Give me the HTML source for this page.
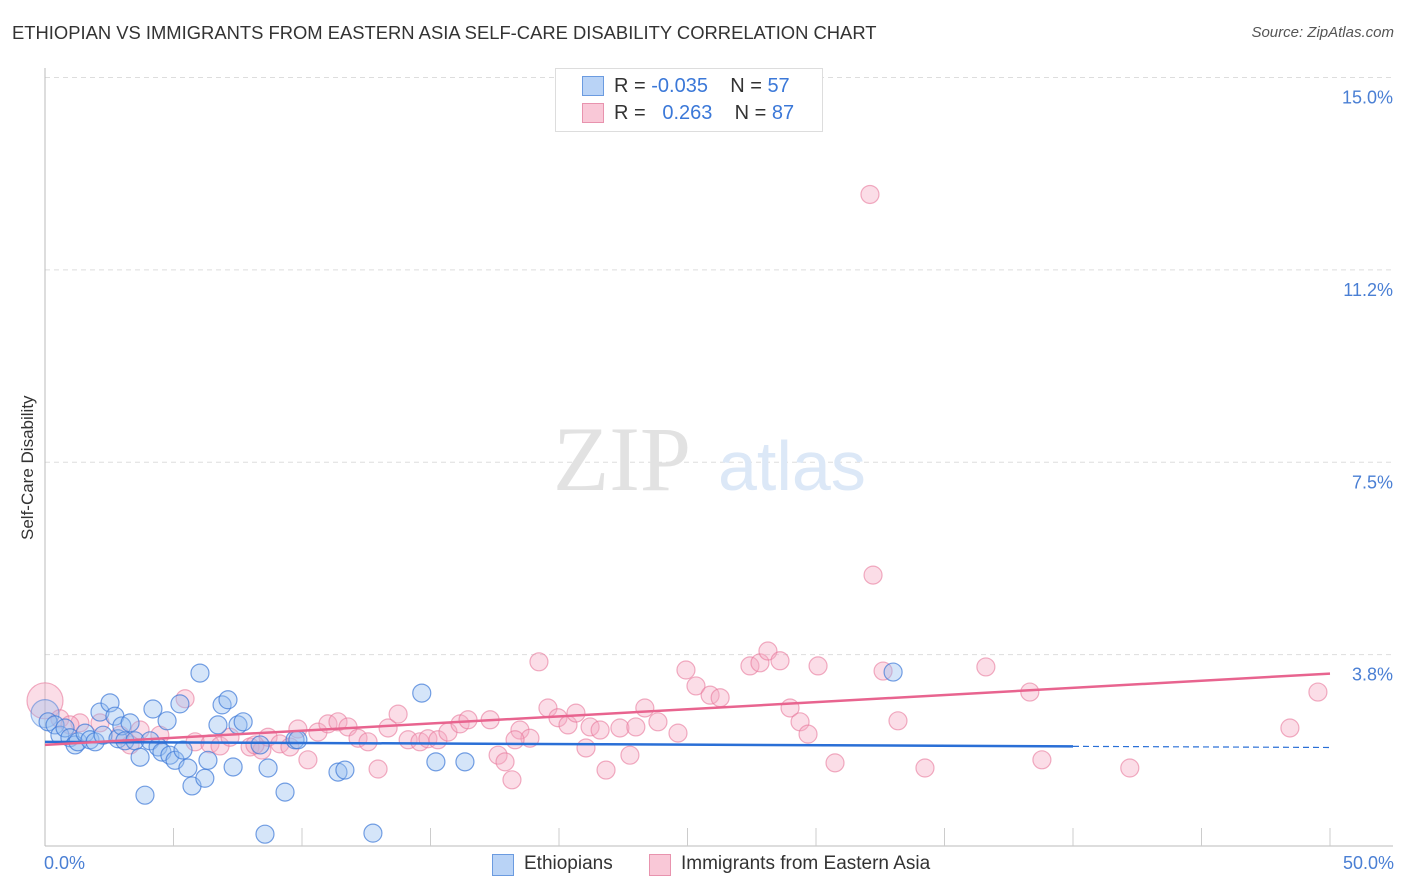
<!DOCTYPE html>
<html><head><meta charset="utf-8">
<style>
body{margin:0;background:#fff;font-family:"Liberation Sans",sans-serif;}
#wrap{position:relative;width:1406px;height:892px;}
.t{position:absolute;white-space:nowrap;}
</style></head>
<body>
<div id="wrap">
<div class="t" style="left:12px;top:22px;font-size:18.4px;color:#333;">ETHIOPIAN VS IMMIGRANTS FROM EASTERN ASIA SELF-CARE DISABILITY CORRELATION CHART</div>
<div class="t" style="right:12px;top:24px;font-size:15px;color:#555;font-style:italic;">Source: ZipAtlas.com</div>
<svg id="svg" width="1406" height="892" style="position:absolute;left:0;top:0"></svg>
</div>
<script>
const yTicks=[15.0,11.25,7.5,3.75];
const yTickLabels=["15.0%","11.2%","7.5%","3.8%"];
const blueX=[0.12,0.39,0.58,0.78,0.97,1.17,1.28,1.56,1.75,1.95,2.14,2.26,2.53,2.72,2.84,2.99,3.11,3.31,3.50,3.70,3.89,4.09,4.20,4.40,4.55,4.75,4.86,5.06,5.25,5.37,5.56,5.72,6.03,6.22,6.34,6.73,6.89,7.12,7.32,7.51,7.71,8.37,8.56,8.68,9.34,9.73,9.84,11.40,11.67,12.76,14.66,15.21,16.34,33.00];
const blueY=[2.44,2.38,2.18,2.32,2.13,1.99,2.05,2.22,2.09,2.05,2.63,2.18,2.81,2.55,2.11,2.36,2.07,2.42,2.07,1.75,1.01,2.07,2.69,1.95,1.85,2.46,1.79,1.69,2.79,1.89,1.54,1.19,3.39,1.34,1.69,2.38,2.77,2.87,1.56,2.38,2.44,1.99,0.25,1.54,1.07,2.09,2.09,1.46,1.50,0.27,3.00,1.66,1.66,3.41];
const pinkX=[0.00,0.58,1.36,2.14,2.92,3.70,4.47,5.45,5.84,6.42,6.81,7.20,7.98,8.44,8.68,9.14,9.53,9.84,10.23,10.62,11.01,11.40,11.79,12.18,12.57,12.96,13.35,13.74,14.13,14.59,14.90,15.29,15.68,16.15,16.46,17.32,17.63,17.90,18.17,18.48,18.87,19.22,19.57,19.96,20.35,20.66,21.05,21.21,21.60,21.83,22.37,22.76,22.99,23.34,23.85,24.63,24.94,25.33,25.88,26.27,27.43,27.82,28.13,28.60,28.99,29.38,29.69,30.08,30.74,32.10,32.22,32.61,33.19,34.24,36.61,38.32,38.79,42.21,48.44,49.53,8.17,18.29,3.31,0.97];
const pinkY=[2.85,2.50,2.42,2.42,2.18,2.28,2.18,2.89,2.05,2.01,1.97,2.14,1.95,1.89,2.14,2.01,1.95,2.30,1.70,2.24,2.40,2.44,2.34,2.12,2.05,1.52,2.32,2.59,2.09,2.05,2.11,2.09,2.24,2.40,2.48,2.48,1.79,1.66,1.31,2.28,2.12,3.61,2.71,2.52,2.38,2.61,1.93,2.34,2.28,1.50,2.32,1.79,2.34,2.71,2.44,2.22,3.45,3.14,2.96,2.91,3.53,3.59,3.82,3.63,2.71,2.44,2.20,3.53,1.64,12.72,5.30,3.43,2.46,1.54,3.51,3.02,1.70,1.54,2.32,3.02,1.99,2.09,1.99,2.38];
const blueR=[2.05,1.94];
const pinkR=[1.99,3.38];
const svg=document.getElementById('svg');
const NS='http://www.w3.org/2000/svg';
const X0=45,X1=1330,Y0=847,YS=51.3;
const sx=v=>X0+(X1-X0)*v/50, sy=v=>Y0-v*YS;
function mk(t,a,p){const e=document.createElementNS(NS,t);for(const k in a)e.setAttribute(k,a[k]);(p||svg).appendChild(e);return e;}
yTicks.forEach((v,i)=>{
 const g=mk('line',{x1:45,x2:1393,y1:sy(v),y2:sy(v),stroke:'#ddd','stroke-dasharray':'5,4'});
 
 
 const t=mk('text',{x:1393,y:sy(v)+26,'text-anchor':'end','font-size':18,fill:'#4a7fd4','font-family':'Liberation Sans'});
 t.textContent=yTickLabels[i];
 
 
});
const ax=mk('line',{x1:45,x2:45,y1:68,y2:846,stroke:'#bbb'});


const bx=mk('line',{x1:45,x2:1393,y1:846,y2:846,stroke:'#bbb'});


for(let i=1;i<=10;i++){const x=45+128.5*i;const tk=mk('line',{x1:x,x2:x,y1:828,y2:846,stroke:'#ccc'});

}
const w1=mk('text',{x:553,y:490,'font-size':92,fill:'#e2e2e2','font-family':'Liberation Serif'});w1.textContent='ZIP';


const w2=mk('text',{x:718,y:490,'font-size':70,fill:'#dce8f7','font-family':'Liberation Sans'});w2.textContent='atlas';


pinkX.forEach((v,i)=>{const c=mk('circle',{cx:sx(v),cy:sy(pinkY[i]),r:i==0?18:9,fill:'rgba(246,170,195,0.4)',stroke:'rgba(232,120,155,0.6)','stroke-width':1.2});

});
const bb=mk('circle',{cx:sx(0),cy:sy(2.6),r:14,fill:'rgba(150,190,240,0.35)',stroke:'rgba(60,120,215,0.5)','stroke-width':1.2});


blueX.forEach((v,i)=>{const c=mk('circle',{cx:sx(v),cy:sy(blueY[i]),r:9,fill:'rgba(150,190,240,0.4)',stroke:'rgba(60,120,215,0.7)','stroke-width':1.2});

});
const bt=mk('line',{x1:sx(0),y1:sy(blueR[0]),x2:sx(40),y2:sy(blueR[0]+(blueR[1]-blueR[0])*0.8),stroke:'#2a6fd6','stroke-width':2.5});


const bd=mk('line',{x1:sx(40),y1:sy(blueR[0]+(blueR[1]-blueR[0])*0.8),x2:sx(50),y2:sy(blueR[1]),stroke:'#2a6fd6','stroke-width':1.2,'stroke-dasharray':'6,4'});


const pt=mk('line',{x1:sx(0),y1:sy(pinkR[0]),x2:sx(50),y2:sy(pinkR[1]),stroke:'#e8648f','stroke-width':2.5});


</script>
<div class="t" style="left:44px;top:853px;font-size:18px;color:#4a7fd4;">0.0%</div>
<div class="t" style="right:12px;top:853px;font-size:18px;color:#4a7fd4;">50.0%</div>
<div class="t" style="left:18px;top:540px;font-size:17px;color:#333;transform:rotate(-90deg);transform-origin:0 0;">Self-Care Disability</div>
<div style="position:absolute;left:555px;top:68px;width:266px;height:62px;border:1px solid #ddd;background:#fff;font-size:20px;">
 <div class="t" style="left:26px;top:7px;width:20px;height:18px;background:#b9d3f6;border:1px solid #6b9be0;"></div>
 <div class="t" style="left:58px;top:6px;color:#333;">R = <span style="color:#3b78d8">-0.035</span>&nbsp;&nbsp;&nbsp; N = <span style="color:#3b78d8">57</span></div>
 <div class="t" style="left:26px;top:34px;width:20px;height:18px;background:#f9c8d7;border:1px solid #e893ae;"></div>
 <div class="t" style="left:58px;top:33px;color:#333;">R = &nbsp;&nbsp;<span style="color:#3b78d8">0.263</span>&nbsp;&nbsp;&nbsp; N = <span style="color:#3b78d8">87</span></div>
</div>
<div class="t" style="left:492px;top:854px;width:20px;height:20px;background:#b9d3f6;border:1px solid #6b9be0;"></div>
<div class="t" style="left:524px;top:853px;font-size:19px;color:#333;">Ethiopians</div>
<div class="t" style="left:649px;top:854px;width:20px;height:20px;background:#f9c8d7;border:1px solid #e893ae;"></div>
<div class="t" style="left:681px;top:853px;font-size:19px;color:#333;">Immigrants from Eastern Asia</div>
</body></html>
